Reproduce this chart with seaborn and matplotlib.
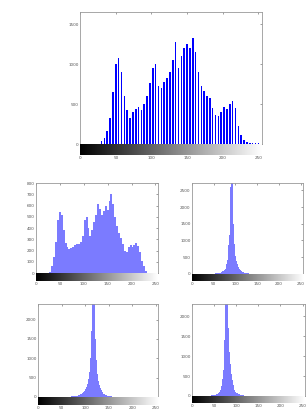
import numpy as np
import pandas as pd
import matplotlib
matplotlib.use("Agg")
import matplotlib.pyplot as plt
import seaborn as sns

# histogram data (counts per bin)
top_start, top_width = 0, 4
top_counts = [0, 0, 0, 0, 0, 0, 5, 40, 80, 160, 330, 650, 1000, 1080, 900, 600,
              420, 320, 400, 440, 460, 430, 500, 600, 760, 950, 1000, 720, 700, 780, 830, 900,
              1050, 1280, 950, 1100, 1200, 1250, 1200, 1320, 1150, 900, 720, 660, 600, 580, 450, 360,
              350, 400, 460, 440, 500, 540, 450, 220, 110, 50, 25, 15, 12, 10, 8, 5]

orig_start, orig_width = 0, 4
orig_counts = [0, 0, 0, 0, 0, 0, 0, 10, 60, 140, 280, 470, 545, 520, 380, 270,
               230, 215, 225, 230, 245, 255, 260, 275, 330, 470, 500, 400, 330, 380, 450, 520,
               610, 570, 520, 550, 600, 560, 640, 700, 610, 500, 420, 360, 310, 260, 200, 190,
               230, 245, 230, 250, 265, 240, 190, 110, 60, 20, 5, 0, 0, 0, 0, 0]

b_start, b_width = 40, 2
b_counts = [5, 5, 6, 7, 8, 10, 12, 14, 16, 20, 25, 30, 38, 48, 60, 75,
            95, 120, 160, 300, 420, 620, 850, 1150, 2600, 3600, 2800, 1500, 900, 750, 550, 400,
            300, 220, 160, 120, 95, 75, 60, 48, 38, 30, 24, 19, 15, 12, 10, 9,
            8, 7, 6, 5, 4, 4, 3, 3, 2, 2, 2, 1]

c_start, c_width = 60, 2
c_counts = [5, 6, 8, 10, 12, 14, 16, 18, 20, 24, 28, 34, 40, 48, 58, 70,
            85, 105, 130, 160, 200, 260, 340, 460, 650, 1000, 1700, 2600, 2800, 2700, 2300, 1500,
            950, 600, 420, 300, 220, 170, 120, 90, 70, 55, 45, 37, 30, 25, 21, 17,
            14, 12, 10, 9, 8, 7, 6, 5, 4, 3, 3, 2]

d_start, d_width = 30, 2
d_counts = [4, 5, 6, 7, 8, 10, 12, 14, 17, 20, 25, 30, 38, 48, 62, 80,
            110, 160, 250, 420, 650, 1400, 2300, 2700, 2600, 2400, 1700, 1100, 800, 550, 400, 280,
            200, 150, 110, 85, 65, 50, 40, 32, 26, 21, 17, 14, 12, 10, 9, 8,
            7, 6, 5, 4, 4, 3, 3, 3, 2, 2, 2, 1]

x_ticks = [0, 50, 100, 150, 200, 250]
top_yticks = [0, 500, 1000, 1500]
orig_yticks = [0, 100, 200, 300, 400, 500, 600, 700, 800]
b_yticks = [0, 500, 1000, 1500, 2000, 2500]
c_yticks = [0, 500, 1000, 1500, 2000]
d_yticks = [0, 500, 1000, 1500, 2000]

sns.set_style("white")
plt.rcParams["font.family"] = ["DejaVu Sans"]

fig = plt.figure(figsize=(3.07, 4.15), dpi=100)
gradient = np.linspace(0, 1, 256).reshape(1, -1)


def draw_panel(rect, bar_rect, start, width, counts, ylim, yticks, color, alpha, shrink):
    ax = fig.add_axes(rect)
    counts = np.array(counts, dtype=float)
    df = pd.DataFrame({
        "level": start + width * np.arange(len(counts)) + width / 2,
        "count": counts,
    })
    edges = [start + width * i for i in range(len(counts) + 1)]
    sns.histplot(data=df, x="level", weights="count", bins=edges, ax=ax, color=color,
                 alpha=alpha, edgecolor="none", linewidth=0, shrink=shrink)
    ax.set_xlim(0, 255)
    ax.set_ylim(*ylim)
    ax.set_xticks(x_ticks)
    ax.set_xticklabels([])
    ax.set_yticks(yticks)
    ax.set_yticklabels([str(t) for t in yticks], fontsize=3)
    ax.set_xlabel("")
    ax.set_ylabel("")
    ax.tick_params(direction="in", length=1.5, width=0.4, pad=1,
                   top=True, right=True, colors="#555555")
    for s in ax.spines.values():
        s.set_color("#999999")
        s.set_linewidth(0.6)
    # gray level bar below the histogram
    cb = fig.add_axes(bar_rect)
    cb.imshow(gradient, cmap="gray", aspect="auto", extent=[0, 255, 0, 1])
    cb.set_yticks([])
    cb.set_xticks(x_ticks)
    cb.set_xticklabels([str(t) for t in x_ticks], fontsize=3)
    cb.tick_params(direction="in", length=1, width=0.4, pad=1, colors="#555555")
    for s in cb.spines.values():
        s.set_visible(False)


draw_panel([0.261, 0.653, 0.592, 0.318], [0.261, 0.6265, 0.592, 0.0265],
           top_start, top_width, top_counts, (0, 1650), top_yticks, "#0000ff", 1.0, 0.55)
draw_panel([0.117, 0.342, 0.397, 0.217], [0.117, 0.323, 0.397, 0.019],
           orig_start, orig_width, orig_counts, (0, 800), orig_yticks, "#6464ff", 0.85, 1.0)
draw_panel([0.625, 0.340, 0.362, 0.219], [0.625, 0.323, 0.362, 0.017],
           b_start, b_width, b_counts, (0, 2720), b_yticks, "#6464ff", 0.85, 1.0)
draw_panel([0.124, 0.0434, 0.391, 0.224], [0.124, 0.024, 0.391, 0.0193],
           c_start, c_width, c_counts, (0, 2400), c_yticks, "#6464ff", 0.85, 1.0)
draw_panel([0.625, 0.0458, 0.368, 0.2217], [0.625, 0.0289, 0.368, 0.0169],
           d_start, d_width, d_counts, (0, 2310), d_yticks, "#6464ff", 0.85, 1.0)

fig.savefig("out.png", dpi=100)
